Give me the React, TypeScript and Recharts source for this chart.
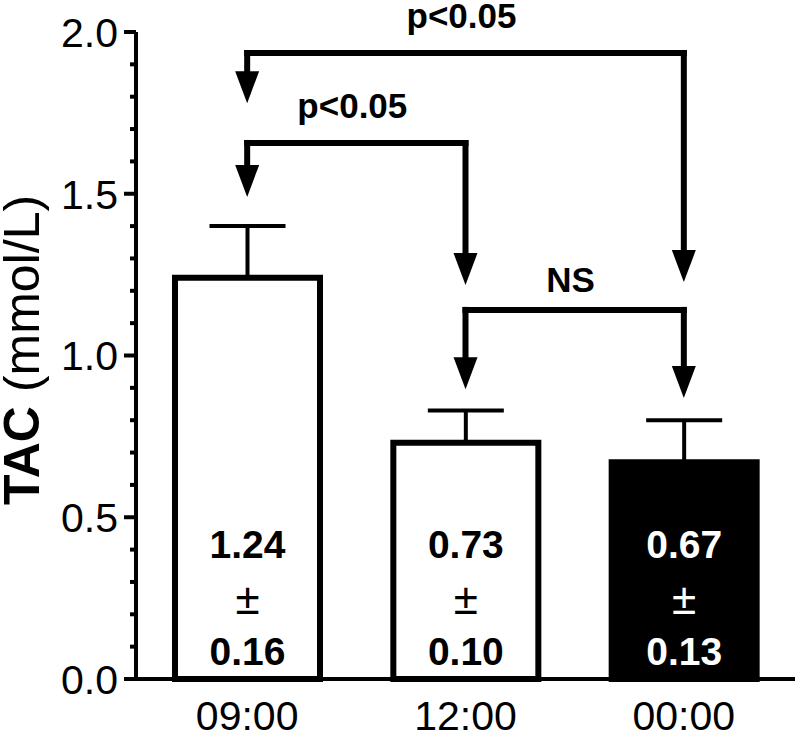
import React from "react";
import { BarChart, Bar, XAxis, YAxis, ErrorBar, LabelList, Cell, ReferenceLine, ReferenceDot } from "recharts";

const times = ["09:00", "12:00", "00:00"];
const means = [1.24, 0.73, 0.67];
const sems = [0.16, 0.1, 0.13];
const barFills = ["#ffffff", "#ffffff", "#000000"];
const textFills = ["#000000", "#000000", "#ffffff"];
const yTicks = [0, 0.1, 0.2, 0.3, 0.4, 0.5, 0.6, 0.7, 0.8, 0.9, 1.0, 1.1, 1.2, 1.3, 1.4, 1.5, 1.6, 1.7, 1.8, 1.9, 2.0];

// comparison brackets: two groups, level of the bracket, where each arrow points
const brackets = [
  { from: "09:00", to: "00:00", level: 1.935, fromTip: 1.78, toTip: 1.227, text: "p<0.05" },
  { from: "09:00", to: "12:00", level: 1.657, fromTip: 1.49, toTip: 1.218, text: "p<0.05" },
  { from: "12:00", to: "00:00", level: 1.141, fromTip: 0.896, toTip: 0.869, text: "NS" },
];

const data = times.map((t, i) => ({ time: t, mean: means[i], err: [0, sems[i]] }));

const FONT = '"Liberation Sans", Arial, sans-serif';

function YTick(props: any) {
  const { x, y, payload } = props;
  const v = payload.value;
  const major = Math.abs(v * 2 - Math.round(v * 2)) < 1e-6;
  return (
    <g>
      <line x1={x - (major ? 12 : 6)} x2={x} y1={y} y2={y} stroke="#000" strokeWidth={4} />
      {major && (
        <text x={x - 18} y={y} dy="0.36em" textAnchor="end" fontSize={41} fontFamily={FONT} fill="#000">
          {v.toFixed(1)}
        </text>
      )}
    </g>
  );
}

function ValueLabel(props: any) {
  const vb = props.viewBox || props;
  const x = vb.x ?? props.x;
  const y = vb.y ?? props.y;
  const width = vb.width ?? props.width;
  const height = vb.height ?? props.height;
  const i = times.indexOf(props.value);
  if (i < 0) return null;
  const cx = x + width / 2;
  const bottom = y + height;
  return (
    <g fontFamily={FONT} textAnchor="middle" fill={textFills[i]}>
      <text x={cx} y={bottom - 121} fontWeight="bold" fontSize={39}>{means[i].toFixed(2)}</text>
      <text x={cx} y={bottom - 65} fontSize={44}>±</text>
      <text x={cx} y={bottom - 14} fontWeight="bold" fontSize={39}>{sems[i].toFixed(2)}</text>
    </g>
  );
}

const Arrow = (props: any) => {
  const { cx, cy } = props;
  return <polygon points={`${cx - 12},${cy - 32} ${cx + 12},${cy - 32} ${cx},${cy}`} fill="#000" />;
};

function bracketLabel(text: string) {
  const gap = text.startsWith("p") ? 25 : 18;
  return (props: any) => {
    const vb = props.viewBox || {};
    return (
      <text
        x={vb.x + vb.width / 2 - 4}
        y={vb.y - gap}
        textAnchor="middle"
        fontSize={35}
        fontWeight="bold"
        fontFamily={FONT}
        fill="#000"
      >
        {text}
      </text>
    );
  };
}

const YLabel = () => (
  <text
    x={22}
    y={350}
    transform="rotate(-90, 22, 350)"
    textAnchor="middle"
    dominantBaseline="central"
    fontSize={50}
    fontFamily={FONT}
    fill="#000"
  >
    <tspan fontWeight="bold">TAC</tspan>
    <tspan> (mmol/L)</tspan>
  </text>
);

export default function App() {
  const marks = brackets.flatMap((b, k) => [
    <ReferenceLine
      key={`h${k}`}
      segment={[{ x: b.from, y: b.level }, { x: b.to, y: b.level }]}
      stroke="#000"
      strokeWidth={6}
      strokeLinecap="square"
      label={bracketLabel(b.text)}
    />,
    <ReferenceLine
      key={`l${k}`}
      segment={[{ x: b.from, y: b.level }, { x: b.from, y: b.fromTip + 0.05 }]}
      stroke="#000"
      strokeWidth={6}
      strokeLinecap="square"
    />,
    <ReferenceLine
      key={`r${k}`}
      segment={[{ x: b.to, y: b.level }, { x: b.to, y: b.toTip + 0.05 }]}
      stroke="#000"
      strokeWidth={6}
      strokeLinecap="square"
    />,
    <ReferenceDot key={`a${k}`} x={b.from} y={b.fromTip} r={1} shape={Arrow} />,
    <ReferenceDot key={`b${k}`} x={b.to} y={b.toTip} r={1} shape={Arrow} />,
  ]);

  return (
    <div style={{ position: "absolute", left: 0, top: 0, background: "#fff" }}>
      <BarChart width={797} height={737} data={data} margin={{ top: 32, right: 2, left: 0, bottom: 0 }}>
        <XAxis
          dataKey="time"
          height={58}
          padding={{ left: 2, right: 2 }}
          tickSize={0}
          tickMargin={22}
          tickLine={false}
          axisLine={{ stroke: "#000", strokeWidth: 4 }}
          tick={{ fontSize: 41, fontFamily: FONT, fill: "#000" }}
        />
        <YAxis
          width={136}
          domain={[0, 2]}
          ticks={yTicks}
          interval={0}
          tickSize={0}
          tickMargin={0}
          tickLine={false}
          axisLine={{ stroke: "#000", strokeWidth: 4 }}
          tick={<YTick />}
          label={<YLabel />}
        />
        <Bar dataKey="mean" barSize={145} stroke="#000" strokeWidth={6} isAnimationActive={false}>
          {data.map((d, i) => (
            <Cell key={d.time} fill={barFills[i]} />
          ))}
          <ErrorBar dataKey="err" direction="y" width={38} stroke="#000" strokeWidth={4} isAnimationActive={false} />
          <LabelList dataKey="time" content={ValueLabel} />
        </Bar>
        {marks}
      </BarChart>
    </div>
  );
}
